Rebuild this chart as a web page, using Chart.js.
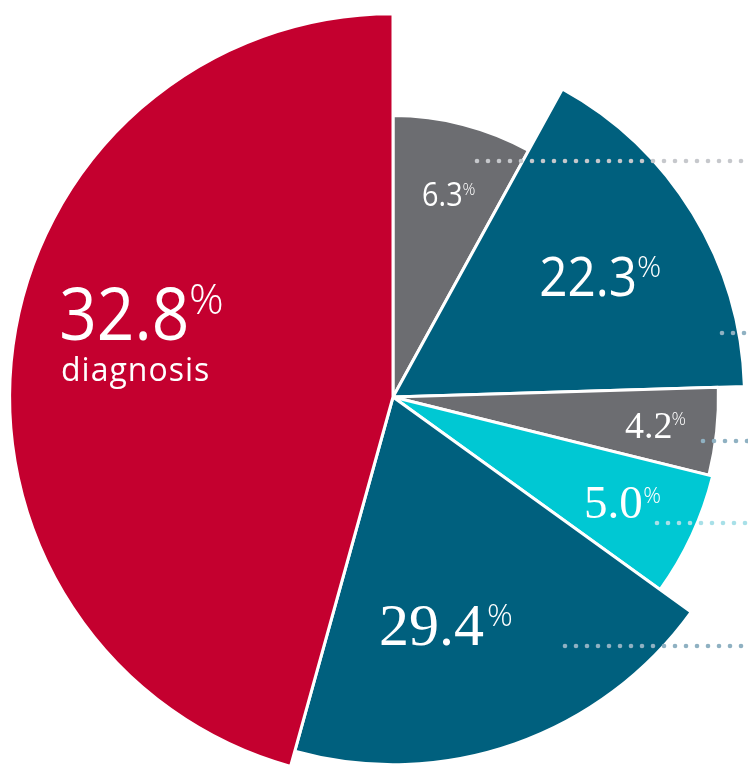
<!DOCTYPE html>
<html>
<head>
<meta charset="utf-8">
<script src="https://cdn.jsdelivr.net/npm/chart.js@4/dist/chart.umd.min.js"></script>
<style>
  html, body { margin: 0; padding: 0; background: #ffffff; overflow: hidden; }
  #wrap { width: 748px; height: 775px; position: relative; }
</style>
</head>
<body>
<div id="wrap"><canvas id="chart" width="748" height="775"></canvas></div>
<script>
// ---- data (clockwise from 12 o'clock) ----
const shares      = [6.3, 22.3, 4.2, 5.0, 29.4, 32.8];          // printed percentages
const categoryNotes = ['', '', '', '', '', 'diagnosis'];          // sub-label text
const sliceAngles = [28.8, 59.5, 15.6, 21.9, 69.7, 164.5];        // angular span of each slice (deg)
const sliceRadii  = [73.4, 91.7, 84.9, 85.9, 95.9, 100];          // relative slice length (largest = 100)
const sliceColors = ['#6c6d71', '#00607e', '#6c6d71', '#00c8d3', '#00607e', '#c4002f'];

const SANS = '"Open Sans", "Noto Sans", sans-serif';
const SERIF = '"Liberation Serif", serif';

// label styling (layout only)
const labelStyle = [
  { ink: [423, 206], size: 32, family: SANS,  sx: 0.9, pct: 16, gap: 1, pBase: 195 },
  { ink: [541, 296], size: 55, family: SANS,  sx: 0.9, pct: 30, gap: 3, pBase: 277 },
  { ink: [625, 438], size: 38, family: SERIF, sx: 1.0, pct: 18, gap: 2, pBase: 425 },
  { ink: [586, 518], size: 47, family: SERIF, sx: 1.0, pct: 22, gap: 3, pBase: 503 },
  { ink: [381, 645], size: 60, family: SERIF, sx: 1.0, pct: 32, gap: 4, pBase: 626 },
  { ink: [62, 340],  size: 73, family: SANS,  sx: 0.9, pct: 43, gap: 5, pBase: 314,
    note: { ink: [62, 381], size: 32, spacing: 1 } }
];

// dotted leader lines running off to the right edge
const leaderStyle = [
  { y: 161, x0: 477, color: '#c6c8cc' },
  { y: 333, x0: 722, color: '#8fb1c2' },
  { y: 441, x0: 703, color: '#8fb1c2' },
  { y: 523, x0: 657, color: '#a8e0e8' },
  { y: 646, x0: 565, color: '#8fb1c2' }
];

const labelPlugin = {
  id: 'sliceLabels',
  afterDatasetsDraw(chart) {
    const ctx = chart.ctx;
    const W = chart.width;
    ctx.save();
    // leaders
    leaderStyle.forEach(l => {
      ctx.fillStyle = l.color;
      for (let x = l.x0; x <= W + 2; x += 11) {
        ctx.beginPath();
        ctx.arc(x, l.y, 2.3, 0, Math.PI * 2);
        ctx.fill();
      }
    });
    // labels
    ctx.fillStyle = '#ffffff';
    ctx.textAlign = 'left';
    ctx.textBaseline = 'alphabetic';
    shares.forEach((v, i) => {
      const s = labelStyle[i];
      const txt = v.toFixed(1);
      ctx.font = `400 ${s.size}px ${s.family}`;
      const m = ctx.measureText(txt);
      const drawX = s.ink[0] + m.actualBoundingBoxLeft * s.sx;
      ctx.save();
      ctx.translate(drawX, s.ink[1]);
      ctx.scale(s.sx, 1);
      ctx.fillText(txt, 0, 0);
      ctx.restore();
      const inkRight = drawX + m.actualBoundingBoxRight * s.sx;
      ctx.font = `300 ${s.pct}px ${SANS}`;
      const pm = ctx.measureText('%');
      ctx.fillText('%', inkRight + s.gap + pm.actualBoundingBoxLeft, s.pBase);
      if (s.note && categoryNotes[i]) {
        ctx.font = `400 ${s.note.size}px ${SANS}`;
        ctx.letterSpacing = s.note.spacing + 'px';
        const nm = ctx.measureText(categoryNotes[i]);
        ctx.fillText(categoryNotes[i], s.note.ink[0] + nm.actualBoundingBoxLeft, s.note.ink[1]);
        ctx.letterSpacing = '0px';
      }
    });
    ctx.restore();
  }
};

new Chart(document.getElementById('chart'), {
  type: 'polarArea',
  data: {
    labels: shares.map((v, i) => v.toFixed(1) + '%' + (categoryNotes[i] ? ' ' + categoryNotes[i] : '')),
    datasets: [{
      data: sliceRadii,
      angle: (c) => sliceAngles[c.dataIndex],
      backgroundColor: sliceColors,
      borderColor: '#ffffff',
      borderWidth: 3,
      clip: false
    }]
  },
  options: {
    responsive: false,
    animation: false,
    layout: { padding: { left: 38, right: 0, top: 19, bottom: 0 } },
    scales: {
      r: { display: false, min: 0, max: 92.6, startAngle: 0 }
    },
    plugins: {
      legend: { display: false },
      tooltip: { enabled: false }
    }
  },
  plugins: [labelPlugin]
});
</script>
</body>
</html>
